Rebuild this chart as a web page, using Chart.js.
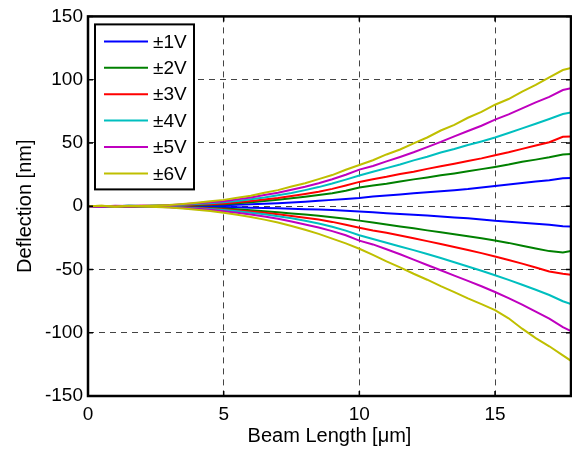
<!doctype html>
<html>
  <head>
    <title>Beam deflection</title>
    <script src="https://cdn.jsdelivr.net/npm/chart.js@4.4.0/dist/chart.umd.min.js"></script>
    <style>
    body { margin: 0; background: #fff; }
    </style>
  </head>

  <body>
    <canvas id="canvas" width="572" height="450"></canvas>

    <script>
      const FONT = "'Liberation Sans', Arial, Helvetica, sans-serif";

      // beam length positions [um]
      const xValues = [0, 0.5, 1, 1.5, 2, 2.5, 3, 3.5, 4, 4.5, 5, 5.5, 6, 6.5, 7, 7.5, 8, 8.5, 9, 9.5,
        10, 10.5, 11, 11.5, 12, 12.5, 13, 13.5, 14, 14.5, 15, 15.5, 16, 16.5, 17, 17.5, 17.8];

      const labels = ['\u00b11V', '\u00b12V', '\u00b13V', '\u00b14V', '\u00b15V', '\u00b16V'];
      const colors = ['#0000ff', '#008000', '#ff0000', '#00bfbf', '#bf00bf', '#bfbf00'];

      // deflection [nm], positive voltage
      const pos1 = [0, 0.2, 0.0, 0.3, 0.1, 0.2, 0.4, 0.3, 0.6, 0.5, 0.8, 1.1, 1.5, 1.9, 2.4, 3.0, 3.6, 4.3, 5.0, 5.7,
        6.5, 7.6, 8.4, 9.3, 10.2, 11.0, 11.9, 12.7, 13.6, 14.8, 16.0, 17.1, 18.4, 19.5, 20.6, 22.0, 22.3];
      const pos2 = [0, 0.1, -0.2, 0.2, 0.0, 0.3, 0.4, 0.7, 1.0, 1.2, 1.6, 2.4, 3.2, 4.1, 5.1, 6.2, 7.4, 8.8, 10.3, 12.2,
        14.8, 16.3, 17.8, 19.6, 21.2, 22.7, 24.4, 25.9, 27.6, 29.3, 31.0, 32.9, 35.1, 36.8, 38.7, 40.9, 41.2];
      const pos3 = [0, -0.1, 0.2, 0.0, 0.3, 0.2, 0.5, 0.9, 1.3, 1.6, 2.2, 3.1, 4.1, 5.3, 6.5, 8.0, 9.6, 11.4, 13.7, 16.4,
        19.2, 21.3, 23.2, 25.4, 27.3, 29.5, 31.6, 33.6, 35.7, 37.8, 40.2, 42.6, 45.3, 48.0, 50.6, 54.8, 55.1];
      const pos4 = [0, 0.2, -0.1, 0.3, 0.2, 0.5, 0.7, 1.2, 1.8, 2.4, 3.1, 4.2, 5.5, 6.9, 8.6, 10.5, 12.7, 15.1, 17.9, 21.0,
        24.3, 27.2, 30.1, 33.0, 36.2, 39.1, 42.4, 45.2, 48.3, 51.2, 54.3, 57.8, 61.5, 65.2, 68.9, 72.8, 74.1];
      const pos5 = [0, -0.2, 0.3, 0.1, 0.4, 0.3, 0.8, 1.5, 2.3, 3.1, 4.0, 5.4, 6.9, 8.8, 10.7, 13.0, 15.4, 18.2, 21.3, 24.9,
        28.9, 31.8, 35.4, 38.9, 42.6, 46.7, 50.8, 55.2, 59.4, 63.6, 68.4, 72.6, 77.3, 82.0, 86.4, 91.8, 93.2];
      const pos6 = [0, 0.3, -0.2, 0.4, 0.2, 0.6, 1.0, 1.8, 2.8, 3.9, 5.0, 6.7, 8.3, 10.6, 12.7, 15.5, 18.1, 21.4, 24.6, 28.8,
        32.6, 36.3, 40.9, 44.8, 49.7, 54.3, 59.8, 64.2, 69.9, 74.5, 80.2, 84.7, 90.6, 95.8, 101.9, 107.6, 109.3];

      // deflection [nm], negative voltage
      const neg1 = [0, -0.1, 0.1, -0.2, 0.0, -0.1, -0.3, -0.2, -0.4, -0.5, -0.7, -0.9, -1.2, -1.4, -1.7, -2.0, -2.4, -2.7, -3.1, -3.6,
        -4.1, -4.8, -5.5, -6.1, -6.8, -7.4, -8.2, -8.9, -9.6, -10.5, -11.5, -12.2, -13.1, -13.8, -14.6, -15.9, -16.1];
      const neg2 = [0, 0.1, -0.2, 0.0, -0.3, -0.2, -0.5, -0.7, -1.0, -1.4, -1.9, -2.5, -3.2, -4.0, -4.8, -5.7, -6.6, -7.6, -8.7, -10.0,
        -11.4, -12.9, -14.5, -16.1, -17.5, -19.1, -20.6, -22.1, -23.7, -25.3, -27.1, -29.0, -31.2, -33.4, -35.5, -36.6, -35.4];
      const neg3 = [0, -0.2, 0.1, -0.3, -0.1, -0.4, -0.6, -0.9, -1.3, -1.8, -2.5, -3.3, -4.2, -5.2, -6.4, -7.7, -9.1, -10.6, -12.4, -14.6,
        -17.1, -19.2, -21.0, -23.1, -25.4, -27.6, -29.9, -32.2, -34.6, -37.1, -39.8, -42.5, -45.4, -48.5, -51.6, -53.4, -54.2];
      const neg4 = [0, 0.2, -0.1, 0.1, -0.2, -0.4, -0.7, -1.1, -1.6, -2.2, -3.0, -4.0, -5.1, -6.4, -7.9, -9.6, -11.5, -13.7, -16.2, -19.3,
        -22.9, -25.9, -28.9, -31.8, -34.7, -37.8, -41.0, -44.3, -47.6, -51.0, -54.6, -58.2, -62.1, -66.0, -70.2, -75.1, -77.3];
      const neg5 = [0, -0.3, 0.2, -0.2, 0.1, -0.5, -0.9, -1.4, -2.0, -2.9, -3.9, -5.2, -6.6, -8.2, -10.0, -12.1, -14.4, -16.9, -19.7, -23.0,
        -27.2, -30.2, -34.0, -38.0, -42.2, -46.5, -50.6, -54.9, -59.0, -63.3, -67.8, -72.6, -77.8, -83.4, -88.9, -95.6, -98.7];
      const neg6 = [0, 0.3, -0.4, 0.2, -0.3, -0.6, -1.1, -1.9, -2.8, -3.8, -5.1, -6.7, -8.5, -10.6, -12.9, -15.6, -18.6, -21.9, -25.6, -29.4,
        -33.6, -38.4, -43.6, -48.3, -53.4, -58.1, -63.2, -67.9, -72.9, -77.4, -82.1, -88.6, -96.8, -104.3, -110.7, -117.9, -122.2];

      const posSeries = [pos1, pos2, pos3, pos4, pos5, pos6];
      const negSeries = [neg1, neg2, neg3, neg4, neg5, neg6];

      let datasets = [];
      labels.forEach(function(label, i) {
        [posSeries[i], negSeries[i]].forEach(function(values) {
          datasets.push({
            label: label,
            data: xValues.map((x, j) => ({x: x, y: values[j]})),
            borderColor: colors[i],
            backgroundColor: colors[i],
            borderWidth: 2,
            pointRadius: 0,
            fill: false,
            order: 6 - i,
          });
        });
      });

      // MATLAB style box, inward ticks and legend inside the axes
      const matlabBox = {
        id: 'matlabBox',
        afterDatasetsDraw(chart) {
          const ctx = chart.ctx;
          const a = chart.chartArea;
          const xs = chart.scales.x, ys = chart.scales.y;
          ctx.save();
          ctx.setLineDash([]);
          ctx.strokeStyle = '#000';

          ctx.lineWidth = 1.5;
          ctx.beginPath();
          xs.ticks.forEach(function(t) {
            const px = xs.getPixelForValue(t.value);
            ctx.moveTo(px, a.bottom); ctx.lineTo(px, a.bottom - 5);
            ctx.moveTo(px, a.top); ctx.lineTo(px, a.top + 5);
          });
          ys.ticks.forEach(function(t) {
            const py = ys.getPixelForValue(t.value);
            ctx.moveTo(a.left, py); ctx.lineTo(a.left + 5, py);
            ctx.moveTo(a.right, py); ctx.lineTo(a.right - 5, py);
          });
          ctx.stroke();

          ctx.lineWidth = 2.5;
          ctx.strokeRect(a.left, a.top, a.right - a.left, a.bottom - a.top);

          // legend
          const lx = a.left + 7, ly = a.top + 8, lw = 99, lh = 165;
          ctx.fillStyle = '#fff';
          ctx.fillRect(lx, ly, lw, lh);
          ctx.lineWidth = 2;
          ctx.strokeRect(lx, ly, lw, lh);
          ctx.font = '19px ' + FONT;
          ctx.textBaseline = 'middle';
          ctx.textAlign = 'left';
          labels.forEach(function(label, i) {
            const y = ly + 17 + i * 26.4;
            ctx.strokeStyle = colors[i];
            ctx.lineWidth = 2;
            ctx.beginPath();
            ctx.moveTo(lx + 9, y);
            ctx.lineTo(lx + 53, y);
            ctx.stroke();
            ctx.fillStyle = '#000';
            ctx.fillText(label, lx + 58, y + 1);
          });
          ctx.restore();
        }
      };

      const config = {
        type: 'line',
        data: {datasets: datasets},
        options: {
          responsive: false,
          animation: false,
          layout: {padding: {top: 16, right: 1, left: 0, bottom: 0}},
          plugins: {legend: {display: false}, tooltip: {enabled: false}},
          elements: {line: {tension: 0}},
          scales: {
            x: {
              type: 'linear',
              min: 0,
              max: 17.8,
              ticks: {stepSize: 5, includeBounds: false, color: '#000', padding: 7, maxRotation: 0,
                font: {family: FONT, size: 19}},
              grid: {color: '#444', lineWidth: 1, drawTicks: false},
              border: {display: false, dash: [6, 5]},
              title: {display: true, text: 'Beam Length [\u03bcm]', color: '#000',
                font: {family: FONT, size: 20}, padding: {top: 0, bottom: 2}},
              afterFit: function(scale) { scale.height = 54; }
            },
            y: {
              min: -150,
              max: 150,
              ticks: {stepSize: 50, color: '#000', padding: 5, font: {family: FONT, size: 19}},
              grid: {color: '#444', lineWidth: 1, drawTicks: false},
              border: {display: false, dash: [6, 5]},
              title: {display: true, text: 'Deflection [nm]', color: '#000',
                font: {family: FONT, size: 20}, padding: {top: 13, bottom: 0}},
              afterFit: function(scale) { scale.width = 88; }
            }
          }
        },
        plugins: [matlabBox]
      };

      window.onload = function() {
        let ctx = document.getElementById('canvas').getContext('2d');
        window.myLine = new Chart(ctx, config);
      };
    </script>
  </body>
</html>
